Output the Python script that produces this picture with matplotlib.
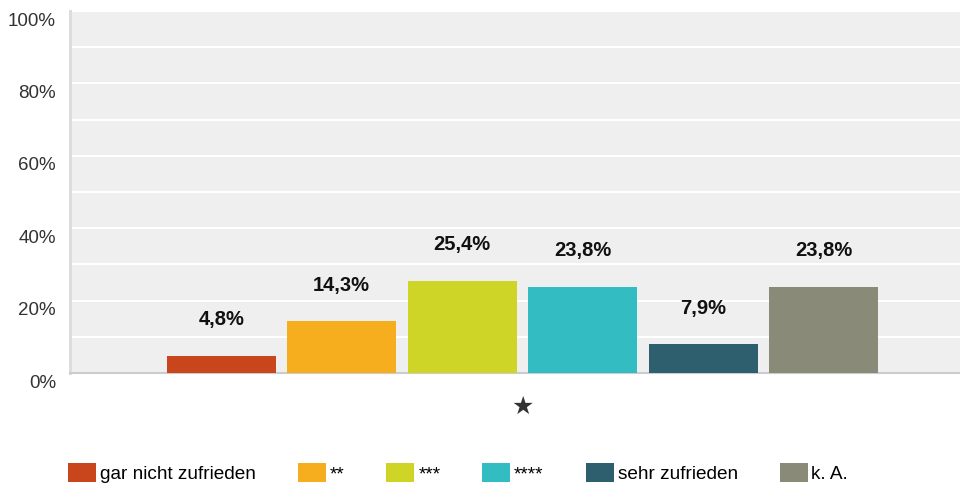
import numpy as np
import matplotlib.pyplot as plt
import matplotlib.transforms as mtransforms
from matplotlib.patches import Patch

categories = ['gar nicht zufrieden', '**', '***', '****', 'sehr zufrieden', 'k. A.']
values = [4.8, 14.3, 25.4, 23.8, 7.9, 23.8]
colors = ['#C9461C', '#F6AE1F', '#CED526', '#33BDC2', '#2E5F6E', '#8A8A78']
y_ticks = [0, 20, 40, 60, 80, 100]
x_label = '★'

plt.rcParams['font.family'] = ['Liberation Sans', 'DejaVu Sans']

fig = plt.figure(figsize=(9.6, 4.83), dpi=100)
ax = fig.add_axes([70 / 960, 110 / 483, 905 / 960, 362 / 483])
ax.set_facecolor('#efefef')

x = np.arange(len(values))
ax.bar(x, values, width=0.905, color=colors, zorder=3)
ax.set_xlim(2.5 - 3.755, 2.5 + 3.755)
ax.set_ylim(0, 100)

for xi, v in zip(x, values):
    ax.annotate(f'{v:.1f}%'.replace('.', ','), (xi, v), xytext=(0, 26),
                textcoords='offset points', ha='center', va='center',
                fontsize=14.5, fontweight='bold', color='#111111')

# grid every 10 %, labels every 20 %
ax.set_yticks(y_ticks, [f'{t}%' for t in y_ticks])
ax.set_yticks(np.arange(10, 100, 20), minor=True)
ax.grid(True, which='both', axis='y', color='white', lw=1.5, zorder=1)
ax.tick_params(axis='y', which='both', length=0, pad=10, labelsize=13.5, labelcolor='#333333')
offset = mtransforms.ScaledTranslation(0, -8 / 100, fig.dpi_scale_trans)
for lab in ax.get_yticklabels():
    lab.set_transform(lab.get_transform() + offset)

ax.set_xticks([2.5], [x_label], family='DejaVu Sans')
ax.tick_params(axis='x', length=0, pad=16, labelsize=18, labelcolor='#333333')

for s in ['top', 'right']:
    ax.spines[s].set_visible(False)
ax.spines['left'].set_color('#dddddd')
ax.spines['left'].set_linewidth(2.2)
ax.spines['bottom'].set_color('#cccccc')
ax.spines['bottom'].set_linewidth(1.5)
ax.set_axisbelow(True)

handles = [Patch(facecolor=c, edgecolor='none') for c in colors]
fig.legend(handles, categories, loc='lower left', bbox_to_anchor=(68 / 960, 0.0),
           ncol=6, frameon=False, fontsize=13.7, handlelength=1.48, handleheight=1.15,
           handletextpad=0.2, columnspacing=2.2, borderpad=0, borderaxespad=0)

fig.savefig('out.png', dpi=100)
